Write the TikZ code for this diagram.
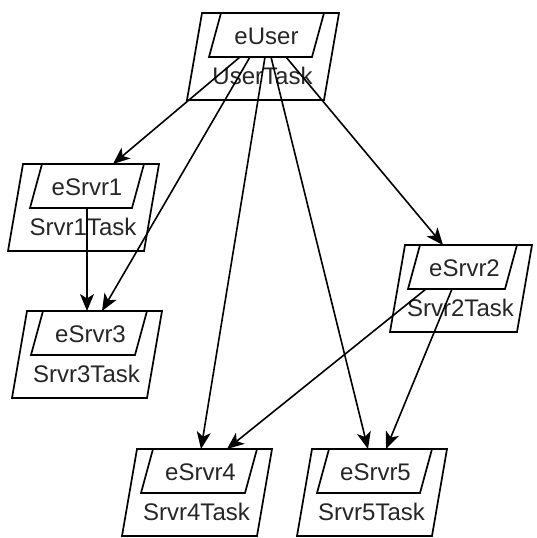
\documentclass[tikz,border=0pt]{standalone}
\usepackage{fontspec}
\setmainfont{Liberation Sans}
\usetikzlibrary{arrows.meta}
\newcommand{\taskbox}[7]{%
  % #1 name, #2 X, #3 Y, #4 W, #5 inner left offset, #6 upper label, #7 lower label
  \draw[boxline] (#2,#3) -- ++(#4,0) -- ++(-15,87) -- ++(-#4,0) -- cycle;
  \draw[boxline] ({#2+#5},#3) -- ({#2+#4-15},#3) -- ({#2+#4-27},{#3+44}) -- ({#2+#5-12},{#3+44}) -- cycle;
  \node[lbl] (#1) at ({#2+#4/2-4},{#3+23}) {#6};
  \node[lbl] (#1t) at ({#2+#4/2-8},{#3+63}) {#7};
}
\begin{document}
\begin{tikzpicture}[x=1pt,y=-1pt,
  boxline/.style={draw=black,line width=1.7pt,line join=miter},
  lbl/.style={font=\fontsize{24}{24}\selectfont,text=black!85,inner sep=0pt},
  conn/.style={draw=black,line width=1.6pt,-{Stealth[length=17pt,width=14pt,inset=4.5pt]}}]
\useasboundingbox (0,0) rectangle (536,538);
\fill[white] (0,0) rectangle (536,538);

\taskbox{eUser}{202}{13}{137}{19}{eUser}{UserTask}
\taskbox{eSrvr1}{23}{164}{136}{19}{eSrvr1}{Srvr1Task}
\taskbox{eSrvr3}{27}{311}{135}{16}{eSrvr3}{Srvr3Task}
\taskbox{eSrvr2}{405}{245}{127}{15}{eSrvr2}{Srvr2Task}
\taskbox{eSrvr4}{137}{449}{135}{16}{eSrvr4}{Srvr4Task}
\taskbox{eSrvr5}{312}{449}{135}{17}{eSrvr5}{Srvr5Task}

\coordinate (u1) at (240,57);
\coordinate (u3) at (250,57);
\coordinate (u4) at (265,57);
\coordinate (u5) at (271,57);
\coordinate (u2) at (286,57);
\coordinate (s1a) at (113,164);
\coordinate (s3a) at (102,311);
\coordinate (s3b) at (87,311);
\coordinate (s4a) at (201,449);
\coordinate (s4b) at (227,449);
\coordinate (s5a) at (368,449);
\coordinate (s5b) at (386,449);
\coordinate (s2a) at (443,245);
\coordinate (o1) at (87,208);
\coordinate (o2a) at (426,289);
\coordinate (o2b) at (452,289);

\draw[conn] (u1) -- (s1a);
\draw[conn] (u3) -- (s3a);
\draw[conn] (u4) -- (s4a);
\draw[conn] (u5) -- (s5a);
\draw[conn] (u2) -- (s2a);
\draw[conn] (o1) -- (s3b);
\draw[conn] (o2a) -- (s4b);
\draw[conn] (o2b) -- (s5b);
\end{tikzpicture}
\end{document}
